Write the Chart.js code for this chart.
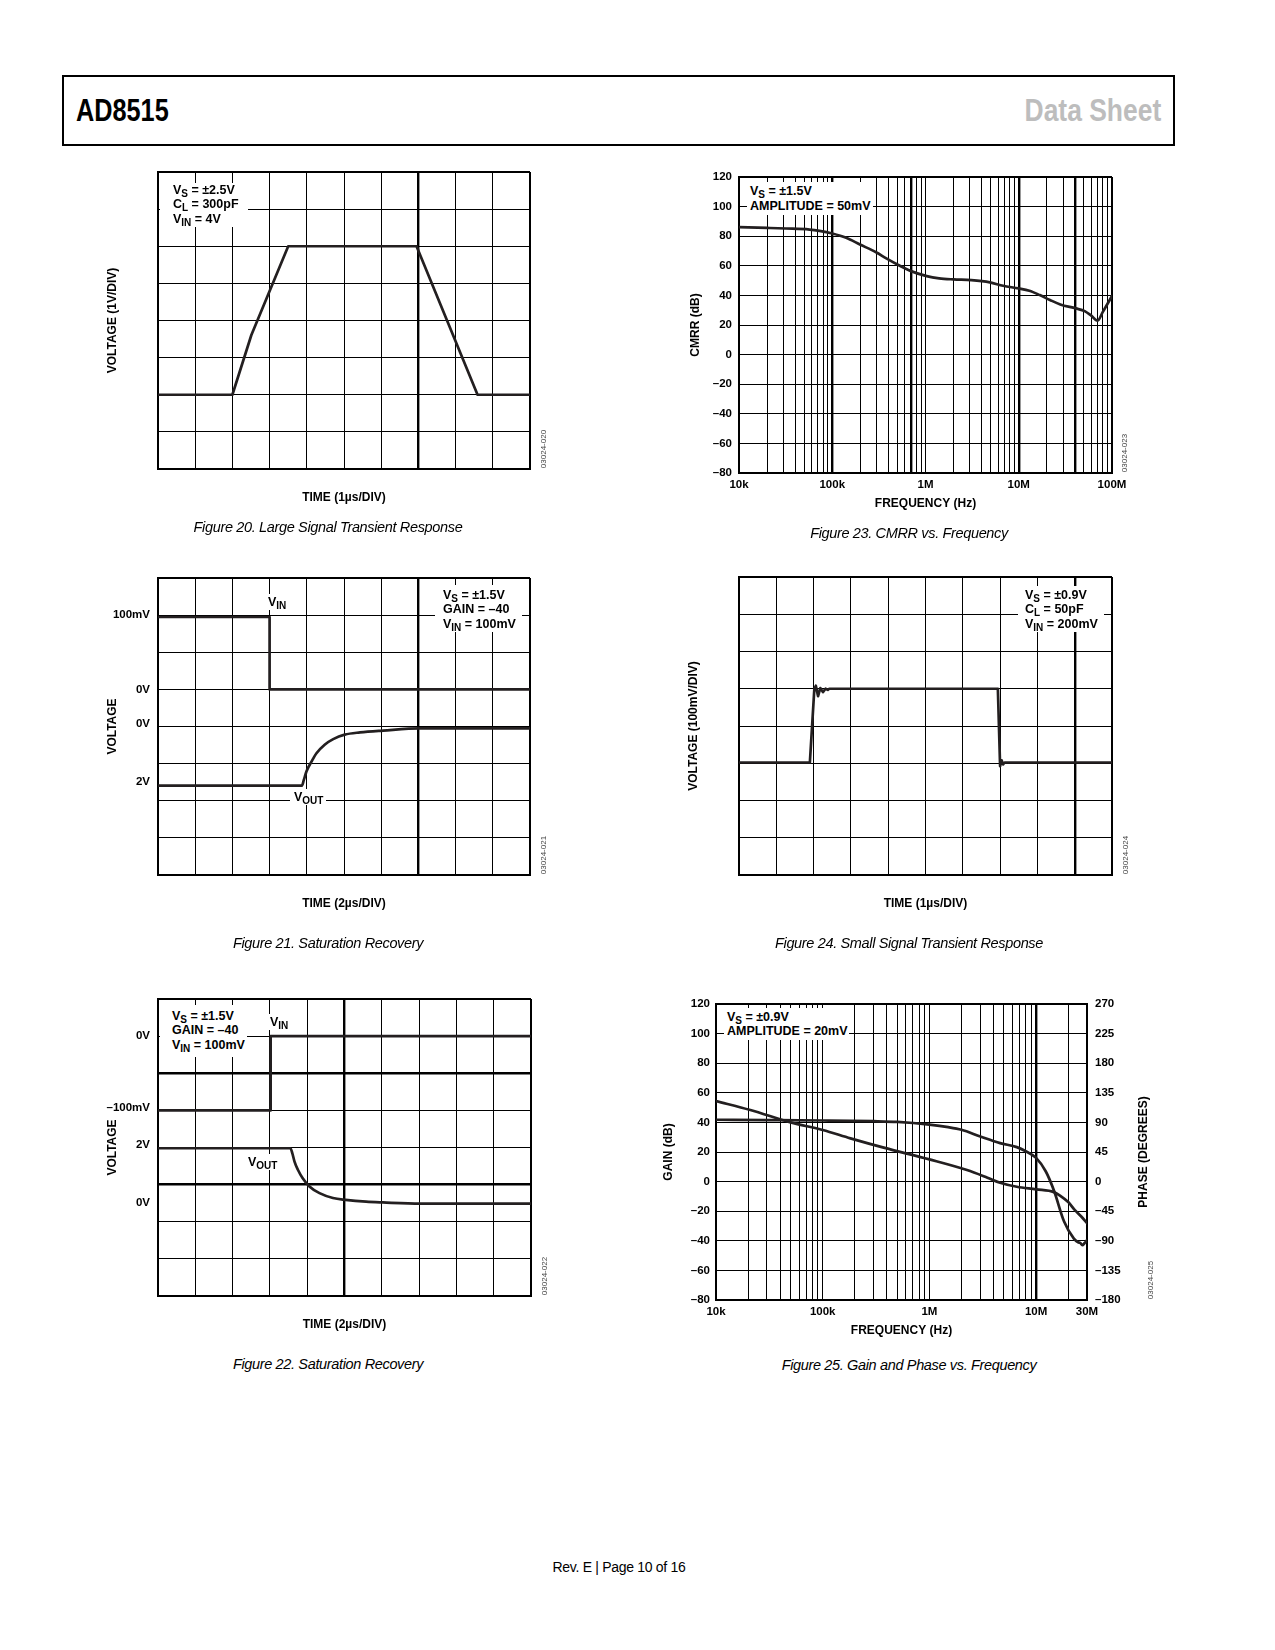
<!DOCTYPE html>
<html>
<head>
<meta charset="utf-8">
<title>AD8515 Data Sheet - Page 10</title>
<script src="https://cdn.jsdelivr.net/npm/chart.js@4.4.1/dist/chart.umd.min.js"></script>
<style>
  html, body { margin: 0; padding: 0; background: #fff; }
  body { width: 1275px; height: 1650px; position: relative; overflow: hidden;
         font-family: "Liberation Sans", Arial, Helvetica, sans-serif; color: #000; }
  canvas { position: absolute; }
  .head { position: absolute; left: 62px; top: 75px; width: 1113px; height: 71px;
          border: 2px solid #000; box-sizing: border-box; }
  .headtxt { position: absolute; font-weight: bold; font-size: 31px; line-height: 31px; white-space: nowrap; }
  .note { position: absolute; background: #fff; font-weight: bold; font-size: 12.5px;
          line-height: 14.3px; box-sizing: border-box; white-space: nowrap; }
  .lbl { position: absolute; background: #fff; font-weight: bold; font-size: 12.5px;
         line-height: 16px; white-space: nowrap; padding: 0 3px 0 2px; }
  sub { font-size: 10px; vertical-align: -3px; line-height: 0; }
  .cap { position: absolute; width: 500px; text-align: center; font-style: italic;
         font-size: 14.5px; line-height: 18px; letter-spacing: -0.35px; white-space: nowrap; }
  .fid { position: absolute; font-size: 8px; color: #444; white-space: nowrap;
         transform: translate(-50%, -50%) rotate(-90deg); }
  .rtitle { position: absolute; font-weight: bold; font-size: 12px; white-space: nowrap;
            transform: translate(-50%, -50%) rotate(-90deg); }
  .foot { position: absolute; left: 419px; top: 1560px; width: 400px; text-align: center;
          font-size: 14px; line-height: 14px; letter-spacing: -0.3px; }
</style>
</head>
<body>

<div class="head"></div>
<div class="headtxt" style="left:76px;top:95px;transform:scaleX(0.815);transform-origin:0 0;">AD8515</div>
<div class="headtxt" style="right:114px;top:95px;color:#bdbdbd;transform:scaleX(0.853);transform-origin:100% 0;">Data Sheet</div>

<canvas id="fig20" width="439" height="353" style="left:101px;top:156px"></canvas>
<canvas id="fig21" width="439" height="353" style="left:101px;top:562px"></canvas>
<canvas id="fig22" width="440" height="353" style="left:101px;top:983px"></canvas>
<canvas id="fig23" width="448" height="354" style="left:684px;top:161px"></canvas>
<canvas id="fig24" width="440" height="354" style="left:682px;top:561px"></canvas>
<canvas id="fig25" width="497" height="354" style="left:657px;top:988px"></canvas>

<!-- condition boxes -->
<div class="note" style="left:160px;top:183px;width:88px;height:44px;padding-left:13px;">V<sub>S</sub> = ±2.5V<br>C<sub>L</sub> = 300pF<br>V<sub>IN</sub> = 4V</div>
<div class="note" style="left:435px;top:585px;width:87px;height:47px;padding:3px 0 0 8px;">V<sub>S</sub> = ±1.5V<br>GAIN = –40<br>V<sub>IN</sub> = 100mV</div>
<div class="note" style="left:160px;top:1005px;width:87px;height:52px;padding:4px 0 0 12px;">V<sub>S</sub> = ±1.5V<br>GAIN = –40<br>V<sub>IN</sub> = 100mV</div>
<div class="note" style="left:747px;top:182px;width:126px;height:33px;padding:2px 0 0 3px;line-height:14.6px;">V<sub>S</sub> = ±1.5V<br>AMPLITUDE = 50mV</div>
<div class="note" style="left:1018px;top:586px;width:86px;height:46px;padding:2px 0 0 7px;">V<sub>S</sub> = ±0.9V<br>C<sub>L</sub> = 50pF<br>V<sub>IN</sub> = 200mV</div>
<div class="note" style="left:724px;top:1008px;width:125px;height:32px;padding:3px 0 0 3px;line-height:13.5px;">V<sub>S</sub> = ±0.9V<br>AMPLITUDE = 20mV</div>

<!-- trace labels -->
<div class="lbl" style="left:266px;top:594px;">V<sub>IN</sub></div>
<div class="lbl" style="left:290px;top:789px;padding-left:4px;">V<sub>OUT</sub></div>
<div class="lbl" style="left:268px;top:1014px;">V<sub>IN</sub></div>
<div class="lbl" style="left:246px;top:1154px;">V<sub>OUT</sub></div>

<div class="rtitle" style="left:1143px;top:1152px;">PHASE (DEGREES)</div>

<div class="fid" style="left:543px;top:449px;">03024-020</div>
<div class="fid" style="left:1124px;top:453px;">03024-023</div>
<div class="fid" style="left:543px;top:855px;">03024-021</div>
<div class="fid" style="left:1125px;top:855px;">03024-024</div>
<div class="fid" style="left:544px;top:1276px;">03024-022</div>
<div class="fid" style="left:1150px;top:1280px;">03024-025</div>

<div class="cap" style="left:78px;top:518px;">Figure 20. Large Signal Transient Response</div>
<div class="cap" style="left:659px;top:524px;">Figure 23. CMRR vs. Frequency</div>
<div class="cap" style="left:78px;top:934px;">Figure 21. Saturation Recovery</div>
<div class="cap" style="left:659px;top:934px;">Figure 24. Small Signal Transient Response</div>
<div class="cap" style="left:78px;top:1355px;">Figure 22. Saturation Recovery</div>
<div class="cap" style="left:659px;top:1356px;">Figure 25. Gain and Phase vs. Frequency</div>

<div class="foot">Rev. E | Page 10 of 16</div>

<script>
// ---- data (scope traces: time and voltage in graticule divisions) ----

// Figure 20, large signal transient
const fig20Time = [0, 2.0, 2.51, 3.5, 6.95, 8.59, 10];
const fig20Volt = [2, 2, 3.61, 6, 6, 2, 2];

// Figure 21, saturation recovery
const fig21InTime = [0, 3.0, 3.0, 10];
const fig21InVolt = [6.95, 6.95, 5.0, 5.0];
const fig21OutTime = [0, 3.87, 3.92, 3.99, 4.13, 4.26, 4.48, 4.71, 5.02, 5.43, 6.05, 7.04, 10];
const fig21OutVolt = [2.41, 2.41, 2.56, 2.79, 3.06, 3.28, 3.51, 3.66, 3.78, 3.84, 3.89, 3.95, 3.95];
const fig21TickPos = [7, 5, 4.07, 2.52];
const fig21TickText = ['100mV', '0V', '0V', '2V'];

// Figure 22, saturation recovery
const fig22InTime = [0, 3.02, 3.02, 10];
const fig22InVolt = [5.0, 5.0, 7.0, 7.0];
const fig22OutTime = [0, 3.55, 3.6, 3.66, 3.75, 3.88, 4.06, 4.33, 4.69, 5.03, 5.58, 6.03, 7.03, 10];
const fig22OutVolt = [3.98, 3.98, 3.85, 3.62, 3.40, 3.17, 2.95, 2.77, 2.64, 2.59, 2.54, 2.52, 2.49, 2.49];
const fig22TickPos = [7, 5.06, 4.07, 2.52];
const fig22TickText = ['0V', '\u2013100mV', '2V', '0V'];

// Figure 23, CMRR vs frequency
const cmrrFreq = [1e4, 2e4, 3.2e4, 5.7e4, 7.3e4, 1e5, 1.41e5, 1.98e5, 2.98e5, 3.8e5, 5.3e5, 7e5,
                  1.03e6, 1.4e6, 2e6, 3.1e6, 4.9e6, 6.8e6, 1e7, 1.3e7, 1.68e7, 2.16e7, 2.79e7,
                  4.1e7, 5.1e7, 6e7, 7e7, 8e7, 1e8];
const cmrrDb = [86.1, 85.6, 85.2, 84.5, 83.6, 81.8, 78.9, 74.4, 69, 65, 60, 56.4,
                53, 51.5, 50.8, 50.3, 48.8, 46.5, 44.7, 43.1, 40.2, 36.9, 33.9,
                31.2, 29.4, 26.3, 22.9, 29, 39.6];
const cmrrTickFreq = [1e4, 1e5, 1e6, 1e7, 1e8];
const cmrrTickText = ['10k', '100k', '1M', '10M', '100M'];

// Figure 24, small signal transient
const fig24Time = [0, 1.9, 2.02, 2.06, 2.12, 2.18, 2.25, 2.32, 2.38, 2.42, 6.94, 7.0, 7.04, 7.08, 7.12, 10];
const fig24Volt = [3.02, 3.02, 5.0, 5.08, 4.8, 5.02, 4.91, 5.0, 4.97, 5.0, 5.0, 2.92, 3.08, 2.97, 3.02, 3.02];

// Figure 25, gain and phase vs frequency
const gainFreq = [1e4, 3e4, 1e5, 3e5, 5e5, 1e6, 1.5e6, 2e6, 3e6, 4.6e6, 6.6e6, 8e6, 1e7,
                  1.23e7, 1.47e7, 1.83e7, 2.26e7, 2.48e7, 2.6e7, 2.71e7, 2.85e7, 3e7];
const gainDb = [41.8, 41.6, 41.3, 40.8, 40.3, 38.5, 36.8, 35, 30.5, 26, 23.3, 20.5, 16,
                7, -6, -27, -38.5, -41, -41.5, -43, -41.5, -39.5];
const phaseFreq = [1e4, 2.1e4, 5e4, 1e5, 1.82e5, 3.73e5, 1e6, 2.25e6, 3.5e6, 4.6e6, 6.6e6,
                   1e7, 1.47e7, 1.7e7, 2e7, 2.3e7, 2.65e7, 3e7];
const phaseDeg = [122.5, 108.8, 90, 78.4, 65.7, 51.6, 33.8, 17.6, 6, -1.7, -7.8,
                  -11.8, -16, -22, -31, -43, -53, -63];
const bodeTickFreq = [1e4, 1e5, 1e6, 1e7, 3e7];
const bodeTickText = ['10k', '100k', '1M', '10M', '30M'];

// ---- shared styling ----
Chart.defaults.font.family = '"Liberation Sans", Arial, Helvetica, sans-serif';
Chart.defaults.color = '#000';

const TICK_FONT = { size: 11.5, weight: 'bold' };
const TITLE_FONT = { size: 12, weight: 'bold' };
const TRACE = '#231f20';
const BORDER = { display: true, color: '#000', width: 2 };
const NO_PLUGINS = { legend: { display: false }, tooltip: { enabled: false } };

function pts(xs, ys) {
  return xs.map((x, i) => ({ x: x, y: ys[i] }));
}

function trace(data, smooth) {
  return {
    data: data,
    borderColor: TRACE,
    borderWidth: 2.7,
    fill: false,
    tension: 0,
    cubicInterpolationMode: smooth ? 'monotone' : 'default',
    borderJoinStyle: 'round',
    borderCapStyle: 'round'
  };
}

// heavy graticule lines, frame edges, plain lines
function gridLines(heavy, edges, onlyIntegers) {
  return {
    drawTicks: false,
    color: (c) => (!onlyIntegers || (c.tick && Number.isInteger(c.tick.value))) ? '#000' : 'rgba(0,0,0,0)',
    lineWidth: (c) => {
      if (!c.tick) return 1;
      if (heavy.includes(c.tick.value)) return 2.4;
      if (edges.includes(c.tick.value)) return 2;
      return 1;
    }
  };
}

function dashMinus(v) {
  return v < 0 ? '\u2013' + (-v) : String(v);
}

function labelFor(v, vals, texts) {
  const i = vals.indexOf(v);
  return i >= 0 ? texts[i] : '';
}

// 1..9 lines in every decade
function logGrid(minF, maxF) {
  const vals = [];
  for (let d = 1e4; d <= maxF; d *= 10) {
    for (let k = 1; k <= 9; k++) {
      const v = k * d;
      if (v >= minF && v <= maxF) vals.push(v);
    }
  }
  return vals;
}

// 10 x 8 division oscilloscope graticule
function scopeChart(id, datasets, cfg) {
  const tickPos = cfg.tickPos || [];
  const tickText = cfg.tickText || [];
  return new Chart(document.getElementById(id), {
    type: 'line',
    data: { datasets: datasets },
    options: {
      responsive: false,
      animation: false,
      layout: { padding: { top: cfg.T, right: cfg.R, left: 0, bottom: 0 } },
      plugins: NO_PLUGINS,
      elements: { point: { radius: 0 } },
      scales: {
        x: {
          type: 'linear', min: 0, max: 10,
          ticks: { stepSize: 1, display: false },
          grid: gridLines(cfg.heavyX || [], [0, 10], false),
          border: BORDER,
          title: { display: true, text: cfg.xTitle, font: TITLE_FONT },
          afterFit: (s) => { s.height = cfg.B; }
        },
        y: {
          type: 'linear', min: 0, max: 8,
          afterBuildTicks: (s) => {
            const vals = [];
            for (let v = 0; v <= 8; v++) vals.push(v);
            tickPos.forEach((p) => { if (!vals.includes(p)) vals.push(p); });
            vals.sort((a, b) => a - b);
            s.ticks = vals.map((v) => ({ value: v }));
          },
          ticks: {
            display: tickPos.length > 0,
            autoSkip: false,
            padding: 8,
            font: TICK_FONT,
            callback: (v) => labelFor(v, tickPos, tickText)
          },
          grid: gridLines(cfg.heavyY || [], [0, 8], true),
          border: BORDER,
          title: { display: true, text: cfg.yTitle, font: TITLE_FONT },
          afterFit: (s) => { s.width = cfg.L; }
        }
      }
    }
  });
}

// ---- figures ----
scopeChart('fig20', [trace(pts(fig20Time, fig20Volt), false)], {
  xTitle: 'TIME (1\u00b5s/DIV)', yTitle: 'VOLTAGE (1V/DIV)',
  heavyX: [7], L: 57, T: 16, R: 10, B: 40
});

scopeChart('fig21', [
  trace(pts(fig21InTime, fig21InVolt), false),
  trace(pts(fig21OutTime, fig21OutVolt), true)
], {
  xTitle: 'TIME (2\u00b5s/DIV)', yTitle: 'VOLTAGE',
  heavyX: [7], tickPos: fig21TickPos, tickText: fig21TickText,
  L: 57, T: 16, R: 10, B: 40
});

scopeChart('fig22', [
  trace(pts(fig22InTime, fig22InVolt), false),
  trace(pts(fig22OutTime, fig22OutVolt), true)
], {
  xTitle: 'TIME (2\u00b5s/DIV)', yTitle: 'VOLTAGE',
  heavyX: [5], heavyY: [6, 3], tickPos: fig22TickPos, tickText: fig22TickText,
  L: 57, T: 16, R: 10, B: 40
});

scopeChart('fig24', [trace(pts(fig24Time, fig24Volt), false)], {
  xTitle: 'TIME (1\u00b5s/DIV)', yTitle: 'VOLTAGE (100mV/DIV)',
  heavyX: [9], L: 57, T: 16, R: 10, B: 40
});

// CMRR vs frequency
new Chart(document.getElementById('fig23'), {
  type: 'line',
  data: { datasets: [trace(pts(cmrrFreq, cmrrDb), true)] },
  options: {
    responsive: false,
    animation: false,
    layout: { padding: { top: 16, right: 20, left: 0, bottom: 0 } },
    plugins: NO_PLUGINS,
    elements: { point: { radius: 0 } },
    scales: {
      x: {
        type: 'logarithmic', min: 1e4, max: 1e8,
        afterBuildTicks: (s) => { s.ticks = logGrid(1e4, 1e8).map((v) => ({ value: v })); },
        ticks: {
          autoSkip: false, maxRotation: 0, minRotation: 0, padding: 5, font: TICK_FONT,
          callback: (v) => labelFor(v, cmrrTickFreq, cmrrTickText)
        },
        grid: gridLines([1e5, 7e5, 1e7, 4e7], [1e4, 1e8], false),
        border: BORDER,
        title: { display: true, text: 'FREQUENCY (Hz)', font: TITLE_FONT },
        afterFit: (s) => { s.height = 42; }
      },
      y: {
        type: 'linear', min: -80, max: 120,
        ticks: { stepSize: 20, autoSkip: false, padding: 7, font: TICK_FONT, callback: dashMinus },
        grid: gridLines([], [-80, 120], false),
        border: BORDER,
        title: { display: true, text: 'CMRR (dB)', font: TITLE_FONT },
        afterFit: (s) => { s.width = 55; }
      }
    }
  }
});

// Gain and phase vs frequency
const gainSet = trace(pts(gainFreq, gainDb), true);
gainSet.yAxisID = 'y';
const phaseSet = trace(pts(phaseFreq, phaseDeg), true);
phaseSet.yAxisID = 'y2';

new Chart(document.getElementById('fig25'), {
  type: 'line',
  data: { datasets: [gainSet, phaseSet] },
  options: {
    responsive: false,
    animation: false,
    layout: { padding: { top: 16, right: 0, left: 0, bottom: 0 } },
    plugins: NO_PLUGINS,
    elements: { point: { radius: 0 } },
    scales: {
      x: {
        type: 'logarithmic', min: 1e4, max: 3e7,
        afterBuildTicks: (s) => { s.ticks = logGrid(1e4, 3e7).map((v) => ({ value: v })); },
        ticks: {
          autoSkip: false, maxRotation: 0, minRotation: 0, padding: 5, font: TICK_FONT,
          callback: (v) => labelFor(v, bodeTickFreq, bodeTickText)
        },
        grid: gridLines([1e7], [1e4, 3e7], false),
        border: BORDER,
        title: { display: true, text: 'FREQUENCY (Hz)', font: TITLE_FONT },
        afterFit: (s) => { s.height = 42; }
      },
      y: {
        type: 'linear', position: 'left', min: -80, max: 120,
        ticks: { stepSize: 20, autoSkip: false, padding: 6, font: TICK_FONT, callback: dashMinus },
        grid: gridLines([], [-80, 120], false),
        border: BORDER,
        title: { display: true, text: 'GAIN (dB)', font: TITLE_FONT },
        afterFit: (s) => { s.width = 59; }
      },
      y2: {
        type: 'linear', position: 'right', min: -180, max: 270,
        ticks: { stepSize: 45, autoSkip: false, padding: 8, font: TICK_FONT, callback: dashMinus },
        grid: { drawOnChartArea: false, drawTicks: false },
        border: BORDER,
        afterFit: (s) => { s.width = 67; }
      }
    }
  }
});
</script>
</body>
</html>
